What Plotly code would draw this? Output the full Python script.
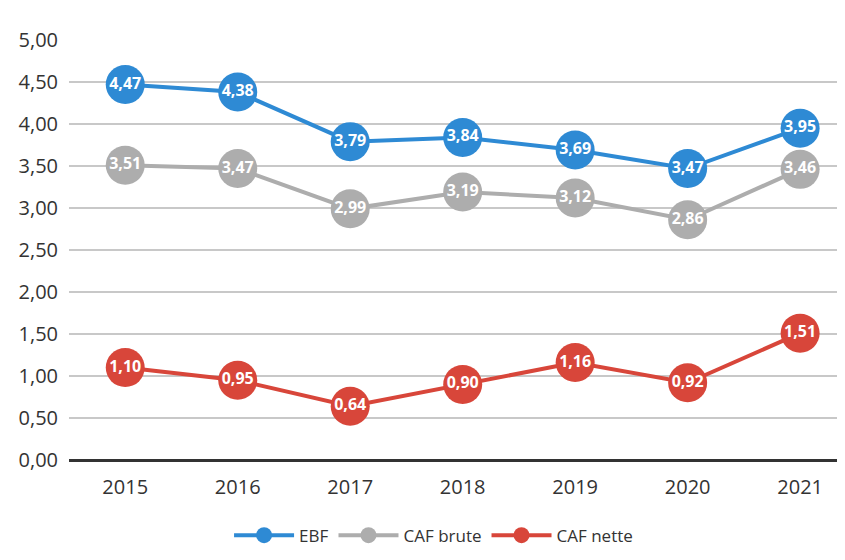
import plotly.graph_objects as go

years = ["2015", "2016", "2017", "2018", "2019", "2020", "2021"]
ebf = [4.47, 4.38, 3.79, 3.84, 3.69, 3.47, 3.95]
caf_brute = [3.51, 3.47, 2.99, 3.19, 3.12, 2.86, 3.46]
caf_nette = [1.10, 0.95, 0.64, 0.90, 1.16, 0.92, 1.51]
y_ticks = [0, 0.5, 1, 1.5, 2, 2.5, 3, 3.5, 4, 4.5, 5]

series = [
    ("EBF", ebf, "#2E8AD4"),
    ("CAF brute", caf_brute, "#ADADAD"),
    ("CAF nette", caf_nette, "#D8463A"),
]

def fmt(v):
    return f"{v:.2f}".replace(".", ",")

fig = go.Figure()
for name, vals, color in series:
    fig.add_trace(go.Scatter(
        x=years, y=vals, name=name,
        mode="lines+markers+text",
        line=dict(color=color, width=4),
        marker=dict(color=color, size=39, line=dict(width=0)),
        text=["<b>" + fmt(v) + "</b>" for v in vals],
        textposition="middle center",
        textfont=dict(color="white", size=16, family="Open Sans"),
        cliponaxis=False,
    ))

fig.update_layout(
    width=845, height=560,
    margin=dict(l=61, r=0, t=32, b=108),
    paper_bgcolor="white", plot_bgcolor="white",
    separators=", ",
    font=dict(family="Open Sans", color="#333333", size=16),
    showlegend=True,
    legend=dict(orientation="h", x=0.465, xanchor="center", y=-0.18, yanchor="middle",
                font=dict(size=17, color="#333333"), itemwidth=60),
    xaxis=dict(type="category", range=[-0.5, 6.47], showgrid=False, ticks="",
               showline=False, ticklabelstandoff=13,
               tickfont=dict(size=20, color="#333333")),
    yaxis=dict(range=[0, 5], tickvals=y_ticks, tickformat=".2f",
               showgrid=True, gridcolor="#C8C8C8", gridwidth=1.5,
               zeroline=True, zerolinecolor="#333333", zerolinewidth=3,
               ticks="", showline=False, ticklabelstandoff=10,
               tickfont=dict(size=20, color="#333333")),
)

fig.write_html("out.html")
